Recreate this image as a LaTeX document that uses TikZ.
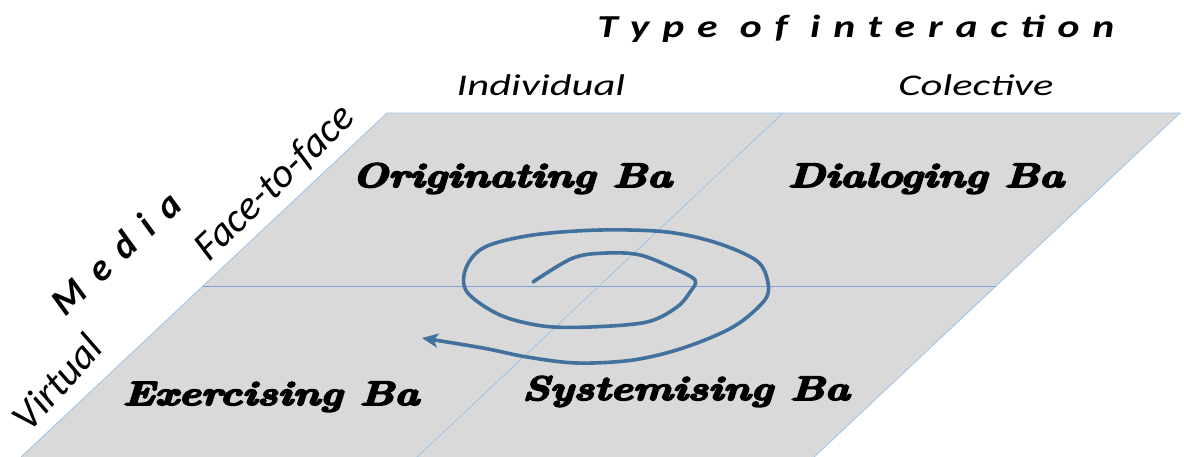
\documentclass[tikz,border=0pt]{standalone}
\usepackage{fontspec}
\setmainfont{Carlito}
\newfontfamily\bafont{lmroman10-bolditalic.otf}[FakeBold=5]
\newfontfamily\spacedfont{Carlito}[LetterSpace=31]
\newfontfamily\mediafont{Carlito}[LetterSpace=40]
\usetikzlibrary{arrows.meta}
\definecolor{bagray}{HTML}{D9D9D9}
\definecolor{edgeblue}{HTML}{9DC3E6}
\definecolor{midblue}{HTML}{7BA3D6}
\definecolor{spiralblue}{HTML}{41719C}
\tikzset{
  balabel/.style={font=\bafont\fontsize{34}{38}\selectfont, inner sep=0pt, anchor=base, xscale=1.24},
  axislabel/.style={font=\itshape\fontsize{30}{34}\selectfont, inner sep=0pt, anchor=base, xscale=1.42},
  sidelabel/.style={font=\itshape\fontsize{41}{46}\selectfont, inner sep=0pt, anchor=center},
  titlelabel/.style={font=\spacedfont\bfseries\itshape\fontsize{32}{36}\selectfont, inner sep=0pt, anchor=base, xscale=1.3},
  medialabel/.style={font=\mediafont\bfseries\itshape\fontsize{38}{42}\selectfont, inner sep=0pt, anchor=center},
  edgeline/.style={draw=edgeblue, line width=0.8pt},
  midline/.style={draw=midblue, line width=0.8pt},
  spiral/.style={draw=spiralblue, line width=3.6pt, line cap=round, line join=round, -{Stealth[length=16pt,width=14pt,inset=4pt]}}
}
\begin{document}
\begin{tikzpicture}[x=1pt,y=-1pt]
\useasboundingbox (0,0) rectangle (1184,456);
\coordinate (tl) at (387,113);
\coordinate (tr) at (1180,113);
\coordinate (br) at (812,459);
\coordinate (bl) at (19,459);
\coordinate (ml) at (203,286);
\coordinate (mr) at (996,286);
\coordinate (mt) at (783,113);
\coordinate (mb) at (415,459);
\fill[bagray] (tl) -- (tr) -- (br) -- (bl) -- cycle;
\draw[edgeline] (bl) -- (tl) -- (tr) -- (br);
\draw[midline] (ml) -- (mr);
\draw[edgeline] (mt) -- (mb);
% spiral
\draw[spiral] plot[smooth, tension=0.55] coordinates {
 (533,282) (573,258) (607,253) (640,255) (673,268) (695,280) (690,292)
 (677,307) (647,322) (590,327) (543,326) (500,315) (467,292) (466,268)
 (485,247) (533,235) (600,230) (667,232) (717,243) (757,261) (768,283)
 (764,301) (733,327) (683,348) (633,360) (577,363) (527,357) (483,348) (422,338)};
% labels
\node[balabel] (orig) at (512,187) {Originating Ba};
\node[balabel] (dial) at (926,187) {Dialoging Ba};
\node[balabel] (exer) at (271,405) {Exercising Ba};
\node[balabel] (syst) at (686,400) {Systemising Ba};
\node[axislabel] (indiv) at (541,95) {Individual};
\node[axislabel] (colec) at (976,95) {Colective};
\node[titlelabel] (type) at (856,37) {Type of interaction};
\node[sidelabel, rotate=44] (face) at (275,183) {Face-to-face};
\node[medialabel, rotate=43] (media) at (116,253) {Media};
\node[sidelabel, rotate=48] (virt) at (57,382) {Virtual};
\end{tikzpicture}
\end{document}
